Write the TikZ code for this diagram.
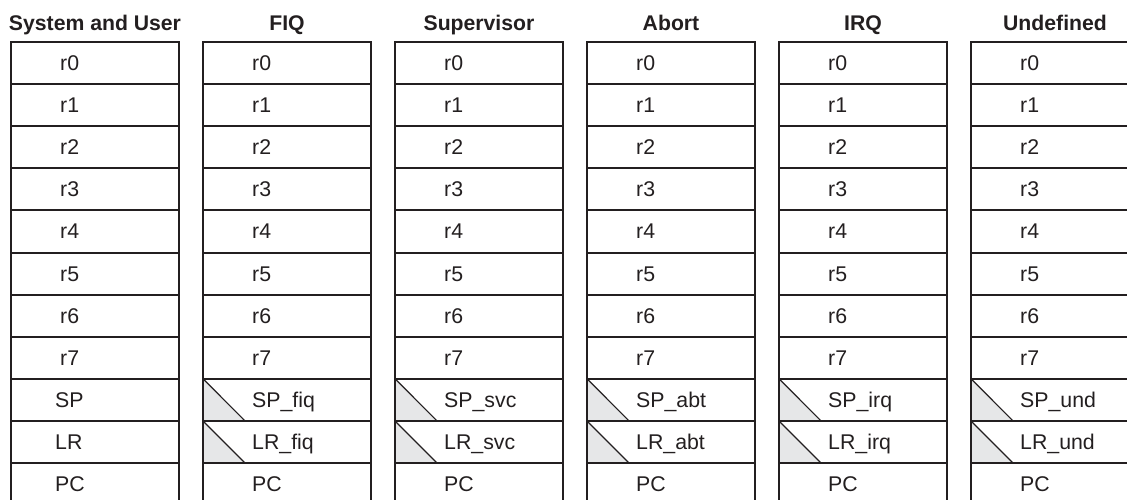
\documentclass[tikz,border=0pt]{standalone}
\usepackage{fontspec}
\setmainfont{Liberation Sans}
\definecolor{ink}{HTML}{231F20}
\definecolor{shade}{HTML}{E6E7E8}
\begin{document}
\begin{tikzpicture}[x=1pt,y=-1pt,
  regbox/.style={draw=ink, line width=1.2pt, minimum width=168pt, minimum height=42.1pt, inner sep=0pt, outer sep=0pt, anchor=north west},
  reglabel/.style={anchor=base west, inner sep=0pt, text=ink, font=\fontsize{21.3}{21}\selectfont},
  coltitle/.style={anchor=base, inner sep=0pt, text=ink, font=\fontsize{21.2}{22}\selectfont\bfseries},
  rowsep/.style={draw=ink, line width=2pt},
  edge/.style={draw=ink, line width=1.2pt},
  banked/.style={fill=shade}]
\useasboundingbox (0,0) rectangle (1127,499);
\fill[white] (0,0) rectangle (1127,499);
\clip (0,0) rectangle (1127,499);
\foreach \t/\s [count=\c from 0] in {System and User/, FIQ/fiq, Supervisor/svc, Abort/abt, IRQ/irq, Undefined/und} {
  \pgfmathsetmacro\xl{11+192*\c}
  \node[coltitle] (t\c) at (\xl+84, 30.5) {\t};
  \foreach \r in {0,...,10} {
    \pgfmathsetmacro\yt{42+42.1*\r}
    \node[regbox] (b\c-\r) at (\xl,\yt) {};
  }
  \ifnum\c>0
    \foreach \r in {8,9} {
      \fill[banked] (b\c-\r.north west) -- (b\c-\r.south west) -- ([xshift=42pt]b\c-\r.south west) -- cycle;
      \draw[edge] (b\c-\r.north west) -- ([xshift=42pt]b\c-\r.south west);
      \draw[edge] (b\c-\r.north west) -- (b\c-\r.south west);
    }
  \fi
  \foreach \r in {1,...,10} {
    \draw[rowsep] (b\c-\r.north west) -- (b\c-\r.north east);
  }
  \foreach \r in {0,...,7} {
    \pgfmathsetmacro\yt{42+42.1*\r}
    \node[reglabel] (l\c-\r) at (\xl+49, \yt+28.5) {r\r};
  }
  \ifnum\c=0
    \node[reglabel] (l\c-8) at (\xl+44, 42+42.1*8+28.5) {SP};
    \node[reglabel] (l\c-9) at (\xl+44, 42+42.1*9+28.5) {LR};
    \node[reglabel] (l\c-10) at (\xl+44, 42+42.1*10+28.5) {PC};
  \else
    \node[reglabel] (l\c-8) at (\xl+49, 42+42.1*8+28.5) {SP\_\s};
    \node[reglabel] (l\c-9) at (\xl+49, 42+42.1*9+28.5) {LR\_\s};
    \node[reglabel] (l\c-10) at (\xl+49, 42+42.1*10+28.5) {PC};
  \fi
}
\end{tikzpicture}
\end{document}
